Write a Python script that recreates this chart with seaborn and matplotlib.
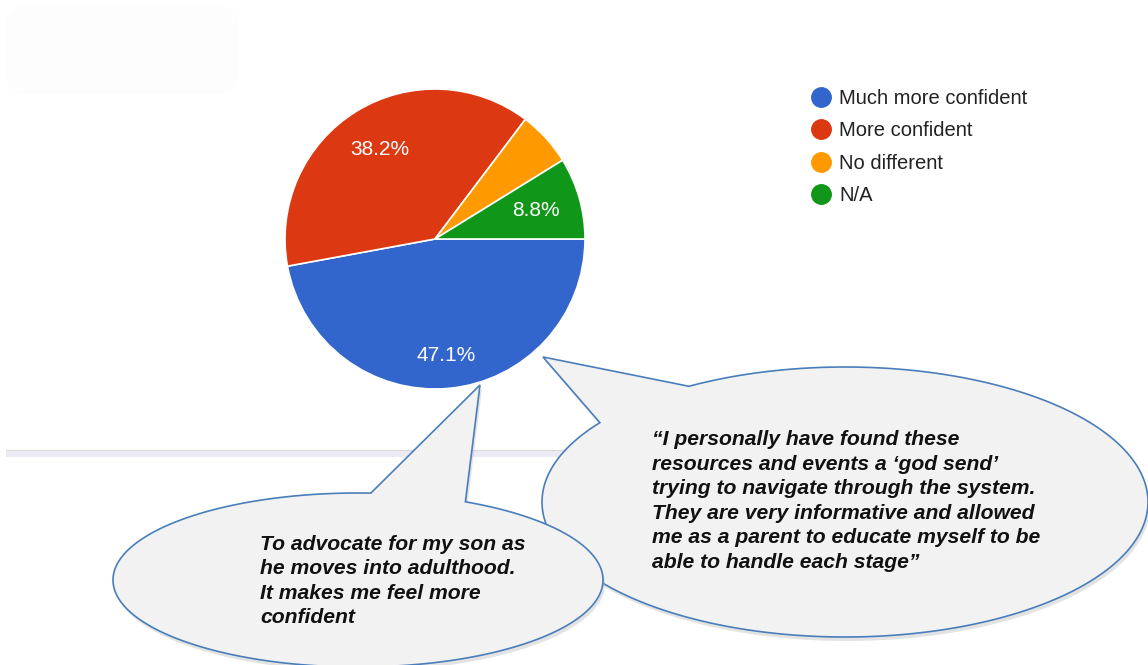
import numpy as np
import matplotlib
matplotlib.use("Agg")
import matplotlib.pyplot as plt
from matplotlib.patches import Polygon, FancyBboxPatch
from matplotlib.lines import Line2D
import seaborn as sns

# ---- data ----
categories = ["Much more confident", "More confident", "No different", "N/A"]
percent = [47.1, 38.2, 5.9, 8.8]
colors = ["#3366cc", "#dc3912", "#ff9900", "#109618"]
quote_left = ("To advocate for my son as\nhe moves into adulthood.\n"
              "It makes me feel more\nconfident")
quote_right = ("\u201cI personally have found these\n"
               "resources and events a \u2018god send\u2019\n"
               "trying to navigate through the system.\n"
               "They are very informative and allowed\n"
               "me as a parent to educate myself to be\n"
               "able to handle each stage\u201d")

sns.set_theme(style="white")
plt.rcParams["font.family"] = ["Liberation Sans", "DejaVu Sans"]

W, H = 1148, 665
fig = plt.figure(figsize=(W / 100, H / 100), dpi=100)
ax = fig.add_axes([0, 0, 1, 1])

def py(y):
    return H - y

# pie
cx, cy, R = 435, py(239), 150
wedges, texts, autotexts = ax.pie(
    percent, colors=colors, startangle=0, counterclock=False,
    center=(cx, cy), radius=R,
    wedgeprops=dict(edgecolor="white", linewidth=1.2),
    autopct=lambda p: f"{p:.1f}%" if p > 7 else "",
    pctdistance=0.7,
    textprops=dict(color="white", fontsize=15),
)
label_dist = [0.78, 0.70, 0.70, 0.70]
for w, t, d in zip(wedges, autotexts, label_dist):
    ang = np.deg2rad((w.theta1 + w.theta2) / 2)
    t.set_position((cx + d * R * np.cos(ang), cy + d * R * np.sin(ang)))
    t.set_ha("center"); t.set_va("center")

ax.set_xlim(0, W)
ax.set_ylim(0, H)
ax.set_aspect("equal")
ax.axis("off")

# faint background elements
ax.add_patch(FancyBboxPatch((8, py(92)), 228, 84, boxstyle="round,pad=2,rounding_size=20",
                            facecolor="#fdfdfd", edgecolor="none", zorder=0))
ax.fill_between([6, 600], py(457), py(450), color="#ecebf5", lw=0, zorder=0)
ax.plot([6, 600], [py(449.5), py(449.5)], color="#d9d9de", lw=0.8, zorder=0)

# legend
handles = [Line2D([], [], marker="o", linestyle="none", markersize=14,
                  markerfacecolor=c, markeredgecolor=c) for c in colors]
leg = ax.legend(handles, categories, loc="upper left",
                bbox_to_anchor=(801 / W, 1 - 81 / H), bbox_transform=fig.transFigure,
                frameon=False, fontsize=14.5, handletextpad=0.3, labelspacing=0.66,
                handlelength=1.2, borderaxespad=0)
for t in leg.get_texts():
    t.set_color("#222222")

# speech bubbles
def bubble(ecx, ecy, a, b, t_gap1, t_gap2, tip, z):
    ts = np.deg2rad(np.linspace(t_gap2, t_gap1 + 360, 400))
    xs = ecx + a * np.cos(ts)
    ys = py(ecy) + b * np.sin(ts)
    pts = list(zip(xs, ys)) + [(tip[0], py(tip[1]))]
    shadow = [(x + 2, y - 4) for x, y in pts]
    ax.add_patch(Polygon(shadow, closed=True, facecolor="#b0b0b0", edgecolor="none",
                         alpha=0.35, zorder=z - 0.5))
    ax.add_patch(Polygon(pts, closed=True, facecolor="#f2f2f2", edgecolor="#4a7ebb",
                         linewidth=1.2, zorder=z))

bubble(845, 502, 303, 135, 121, 144, (543, 357), 3)
bubble(358, 580, 245, 87, 64, 87, (480, 385), 4)

ax.text(652, py(501), quote_right, ha="left", va="center", fontsize=15.2,
        fontweight="bold", fontstyle="italic", color="#111111", linespacing=1.37, zorder=5)
ax.text(260, py(581), quote_left, ha="left", va="center", fontsize=15.2,
        fontweight="bold", fontstyle="italic", color="#111111", linespacing=1.37, zorder=5)

fig.savefig("out.png", dpi=100)
